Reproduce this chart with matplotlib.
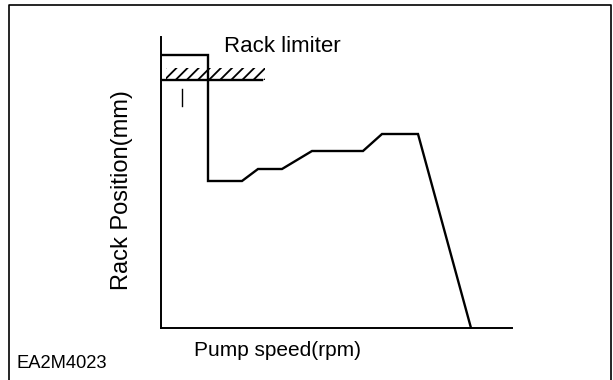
import matplotlib.pyplot as plt
from matplotlib.patches import Rectangle
from matplotlib.lines import Line2D

# Governor curve (arbitrary units, origin at the axes corner)
speed = [0, 47, 47, 81, 97, 121, 151, 202, 221, 257, 310]
rack = [273, 273, 147, 147, 159, 159, 177, 177, 194, 194, 0]

# Rack limiter stop
limiter_start, limiter_end = 2, 101
limiter_level = 248
limiter_thickness = 12

plt.rcParams['font.family'] = ['Liberation Sans', 'DejaVu Sans']
plt.rcParams['hatch.linewidth'] = 1.3

fig = plt.figure(figsize=(6.13, 3.80), dpi=100)
ax = fig.add_axes([161 / 613, 52 / 380, 351 / 613, 291 / 380])
ax.set_xlim(0, 351)
ax.set_ylim(0, 291)

ax.plot(speed, rack, color='black', linewidth=1.7, solid_joinstyle='miter')

# Hatched limiter bar
ax.add_patch(Rectangle((limiter_start + 3, limiter_level), limiter_end - limiter_start,
                       limiter_thickness, facecolor='none', edgecolor='black',
                       hatch='///', linewidth=0))
ax.plot([limiter_start, limiter_end], [limiter_level, limiter_level],
        color='black', linewidth=1.7)
# small mark under the limiter
ax.plot([21, 21], [222, 239], color='black', linewidth=1.0)

for side in ['top', 'right']:
    ax.spines[side].set_visible(False)
for side in ['left', 'bottom']:
    ax.spines[side].set_linewidth(1.4)
ax.set_xticks([])
ax.set_yticks([])
ax.patch.set_alpha(0)

fig.text(224 / 613, 1 - 47 / 380, 'Rack limiter', fontsize=16, va='center', ha='left')
fig.text(122 / 613, 1 - 190 / 380, 'Rack Position(mm)', fontsize=17, rotation=90,
         va='center', ha='center')
fig.text(278 / 613, 1 - 351 / 380, 'Pump speed(rpm)', fontsize=15, va='center', ha='center')
fig.text(17 / 613, 1 - 364 / 380, 'EA2M4023', fontsize=13.2, va='center', ha='left')

# outer frame (open at the bottom)
frame_x = [9 / 613, 9 / 613, 611 / 613, 611 / 613]
frame_y = [0, 1 - 5 / 380, 1 - 5 / 380, 0]
fig.add_artist(Line2D(frame_x, frame_y, color='black', linewidth=1.2,
                      transform=fig.transFigure))

fig.savefig('out.png', dpi=100)
plt.close()
